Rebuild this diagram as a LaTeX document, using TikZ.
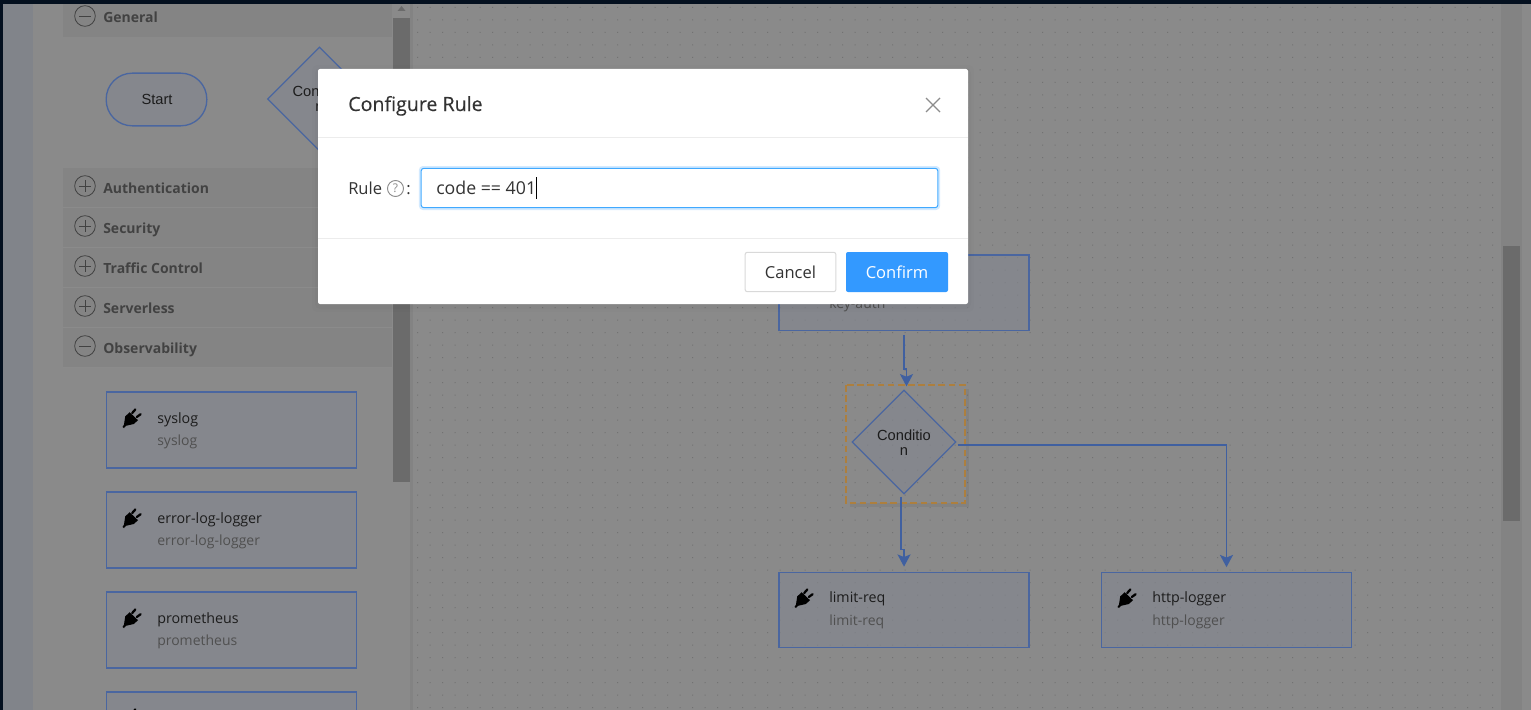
\documentclass[tikz,border=0pt]{standalone}
\usepackage{fontspec}
\setmainfont{Open Sans}
\newfontfamily\arialf{Liberation Sans}
\usetikzlibrary{arrows.meta,shapes.geometric,calc}
\definecolor{pagebg}{HTML}{8A8A8A}
\definecolor{darkedge}{HTML}{04101F}
\definecolor{leftstrip}{HTML}{81848A}
\definecolor{bandc}{HTML}{848484}
\definecolor{bandline}{HTML}{8B8B8B}
\definecolor{thumbc}{HTML}{6B6B6B}
\definecolor{trackc}{HTML}{838383}
\definecolor{dotc}{HTML}{727272}
\definecolor{boxfill}{HTML}{83868F}
\definecolor{boxline}{HTML}{4A66A0}
\definecolor{arrowc}{HTML}{4060A0}
\definecolor{dashc}{HTML}{AD7F3E}
\definecolor{headtxt}{HTML}{424242}
\definecolor{subtxt}{HTML}{505050}
\definecolor{maintxt}{HTML}{1C1C1C}
\definecolor{modaltxt}{HTML}{333333}
\definecolor{rulec}{HTML}{ECECEC}
\definecolor{focusc}{HTML}{40A9FF}
\definecolor{glowc}{HTML}{D3EAFF}
\definecolor{confirmc}{HTML}{3399FF}
\definecolor{cancelb}{HTML}{D9D9D9}
\definecolor{hintc}{HTML}{8C8C8C}
\tikzset{
  plugbox/.style={rectangle,draw=boxline,line width=1.4pt,fill=boxfill,fill opacity=.65,minimum width=187.5pt,minimum height=56.5pt,inner sep=0pt},
  canvasbox/.style={plugbox,line width=1pt},
  ttl/.style={anchor=base west,inner sep=0pt,text=maintxt,font=\fontsize{10.7}{12}\selectfont},
  sub/.style={anchor=base west,inner sep=0pt,text=subtxt,font=\fontsize{10.5}{12}\selectfont},
  headlab/.style={anchor=base west,inner sep=0pt,text=headtxt,font=\fontsize{10.5}{12}\selectfont\bfseries},
  arlab/.style={inner sep=0pt,text=maintxt,font=\arialf\fontsize{11}{11}\selectfont,align=center},
  flowdiamond/.style={diamond,draw=boxline,line width=1pt,fill=boxfill,fill opacity=.65,aspect=1,inner sep=0pt,minimum width=78pt,minimum height=78pt},
  conn/.style={draw=arrowc,line width=1pt,-{Stealth[length=9.2pt,width=9.8pt,inset=2pt]}},
  circ/.style={circle,draw=headtxt,line width=.6pt,minimum size=15.5pt,inner sep=0pt},
  mtxt/.style={inner sep=0pt,text=modaltxt,font=\fontsize{12.4}{14}\selectfont},
}
\newcommand{\plugicon}[2]{%
  \begin{scope}[shift={(#1,#2)}]
    \fill[black] (-9.5,9) -- (-8,6.5) -- (-6.8,-1.5) -- (-2.4,-5.8) -- (6,2.2) -- (1.8,6) -- (-6,7.8) -- (-8,10) -- cycle;
    \draw[black,line width=1.7pt,line cap=round] (.2,-5) -- (3.4,-8.6);
    \draw[black,line width=1.7pt,line cap=round] (4.8,-1) -- (8.6,-3.8);
  \end{scope}}
\newcommand{\headrow}[4]{% name, y, plus?, label
  \fill[bandc] (63,#2-20) rectangle (392,#2+19);
  \draw[bandline,line width=.5pt] (63,#2+19) -- (392,#2+19);
  \node[circ] (#1c) at (85,#2-2) {};
  \draw[headtxt,line width=.6pt] (79,#2-2) -- (91,#2-2);
  \ifnum#3=1 \draw[headtxt,line width=.6pt] (85,#2-8) -- (85,#2+4); \fi
  \node[headlab] (#1l) at (103,#2+5.5) {#4};}
\newcommand{\leftplug}[4]{% name, top y, title, sub
  \node[plugbox] (#1) at (231.5,#2+38) {};
  \plugicon{132}{#2+26}
  \node[ttl] (#1t) at (157,#2+31) {#3};
  \node[sub] (#1s) at (157,#2+53) {#4};}
\begin{document}
\begin{tikzpicture}[x=.75pt,y=-.75pt]
\useasboundingbox (0,0) rectangle (1531,710);
% page
\fill[pagebg] (0,0) rectangle (1531,710);
\fill[leftstrip] (3,0) rectangle (33,710);
\fill[darkedge] (0,0) rectangle (3,710);
% side panel
\fill[bandc] (63,0) rectangle (392,37);
\node[circ] (generalc) at (85,16) {};
\draw[headtxt,line width=.6pt] (79,16) -- (91,16);
\node[headlab] (generall) at (103,22.5) {General};
\headrow{authn}{188}{1}{Authentication}
\headrow{secu}{228}{1}{Security}
\headrow{traffic}{268}{1}{Traffic Control}
\headrow{serverless}{308}{1}{Serverless}
\headrow{observ}{348}{0}{Observability}
% panel scrollbar
\fill[trackc] (410,0) rectangle (413,710);
\fill[thumbc] (393,18) rectangle (410,482);
\fill[thumbc] (401.5,6) -- (405.5,11) -- (397.5,11) -- cycle;
% canvas scrollbar
\fill[trackc] (1501,0) rectangle (1522,710);
\fill[thumbc] (1503,246) rectangle (1520,521);
% canvas dots
\fill[dotc] \foreach \i in {0,...,86} {\foreach \j in {0,...,56} {(417+\i*12.5,7+\j*12.5) rectangle +(1,1)}};
\fill[darkedge] (0,0) rectangle (1531,4);
% palette shapes
\node[rectangle,rounded corners=19.5pt,draw=boxline,line width=1pt,fill=boxfill,fill opacity=.65,minimum width=75.5pt,minimum height=39.5pt,inner sep=0pt] (startshape) at (156.5,99.5) {};
\node[arlab] (startlab) at (157,99.5) {Start};
\node[flowdiamond] (palcond) at (319.5,99) {};
\node[arlab] (palcondlab) at (319.5,99) {Conditio\\n};
\leftplug{syslogb}{392}{syslog}{syslog}
\leftplug{errlogb}{492}{error-log-logger}{error-log-logger}
\leftplug{promb}{592}{prometheus}{prometheus}
\node[plugbox] (nextb) at (231.5,730) {};
\plugicon{132}{718}
% flow canvas
\node[canvasbox] (keyauth) at (904,292.5) {};
\node[sub] (keyauthsub) at (829,308) {key-auth};
\draw[black,opacity=.05,line width=2.4pt] (850,505) -- (967.5,505) -- (967.5,389);
\draw[dashc,line width=1.3pt,dash pattern=on 5pt off 2.6pt] (846,385) rectangle (965,503);
\node[flowdiamond] (cond) at (904,442) {};
\node[arlab] (condlab) at (904,442.5) {Conditio\\n};
\node[canvasbox] (limitreq) at (904,610) {};
\plugicon{804}{598}
\node[ttl] (limitt) at (829,602) {limit-req};
\node[sub] (limits) at (829,625) {limit-req};
\node[canvasbox] (httplog) at (1226.5,610) {};
\plugicon{1127}{598}
\node[ttl] (httpt) at (1152,602) {http-logger};
\node[sub] (https) at (1152,625) {http-logger};
% connectors
\draw[conn,line width=1.2pt] ([shift={(0,4)}]keyauth.south) -- ([shift={(0,38)}]keyauth.south) -- ([shift={(2.5,38)}]keyauth.south) -- ([shift={(2.5,-3)}]cond.north);
\draw[conn] ([shift={(-3,2)}]cond.south) -- ([shift={(-3,55)}]cond.south) -- ([shift={(0,55)}]cond.south) -- ([shift={(0,-5)}]limitreq.north);
\draw[conn] ([shift={(1,3)}]cond.east) -| ([shift={(0,-4.5)}]httplog.north);
% modal
\foreach \k/\o in {6/.012,3/.018} {\fill[black,opacity=\o,rounded corners=4pt] (318-\k,69-\k+2) rectangle (968+\k,304+\k+2);}
\node[rectangle,fill=white,rounded corners=1.5pt,minimum width=487.5pt,minimum height=176.25pt,inner sep=0pt] (modal) at (643,186.5) {};
\draw[rulec,line width=.75pt] (318,137.5) -- (968,137.5);
\draw[rulec,line width=.75pt] (318,238.5) -- (968,238.5);
\node[inner sep=0pt,anchor=base west,text=modaltxt,font=\fontsize{14.7}{16}\selectfont\addfontfeatures{FakeBold=0.25}] (mtitle) at (348,111) {Configure Rule};
\draw[hintc,line width=.9pt] (926,98) -- (940,112) (940,98) -- (926,112);
\node[mtxt,anchor=base west] (rulelab) at (348,194) {Rule};
\node[circle,draw=hintc,line width=.7pt,minimum size=12pt,inner sep=0pt,text=hintc,font=\fontsize{9}{10}\selectfont] (qmark) at (395.5,188.5) {?};
\node[mtxt,anchor=base west] (colon) at (406,194) {:};
\node[rectangle,rounded corners=3pt,fill=glowc,minimum width=391pt,minimum height=33pt,inner sep=0pt] (glow) at (679.5,188) {};
\node[rectangle,rounded corners=2pt,draw=focusc,line width=.75pt,fill=white,minimum width=387.5pt,minimum height=29.5pt,inner sep=0pt] (rulein) at (679.5,188) {};
\node[mtxt,anchor=base west,font=\fontsize{13.3}{15}\selectfont] (ruletxt) at (436,194.5) {code == 401};
\draw[black,line width=.6pt] (536,177) -- (536,199);
\node[rectangle,rounded corners=1.5pt,draw=cancelb,line width=.75pt,fill=white,minimum width=68pt,minimum height=29.5pt,inner sep=0pt] (cancel) at (790.5,272) {};
\node[mtxt] (canceltxt) at (790.5,272.5) {Cancel};
\node[rectangle,rounded corners=1.5pt,fill=confirmc,minimum width=76.5pt,minimum height=30pt,inner sep=0pt] (confirm) at (897,272) {};
\node[mtxt,text=white] (confirmtxt) at (897,272.5) {Confirm};
\end{tikzpicture}
\end{document}
